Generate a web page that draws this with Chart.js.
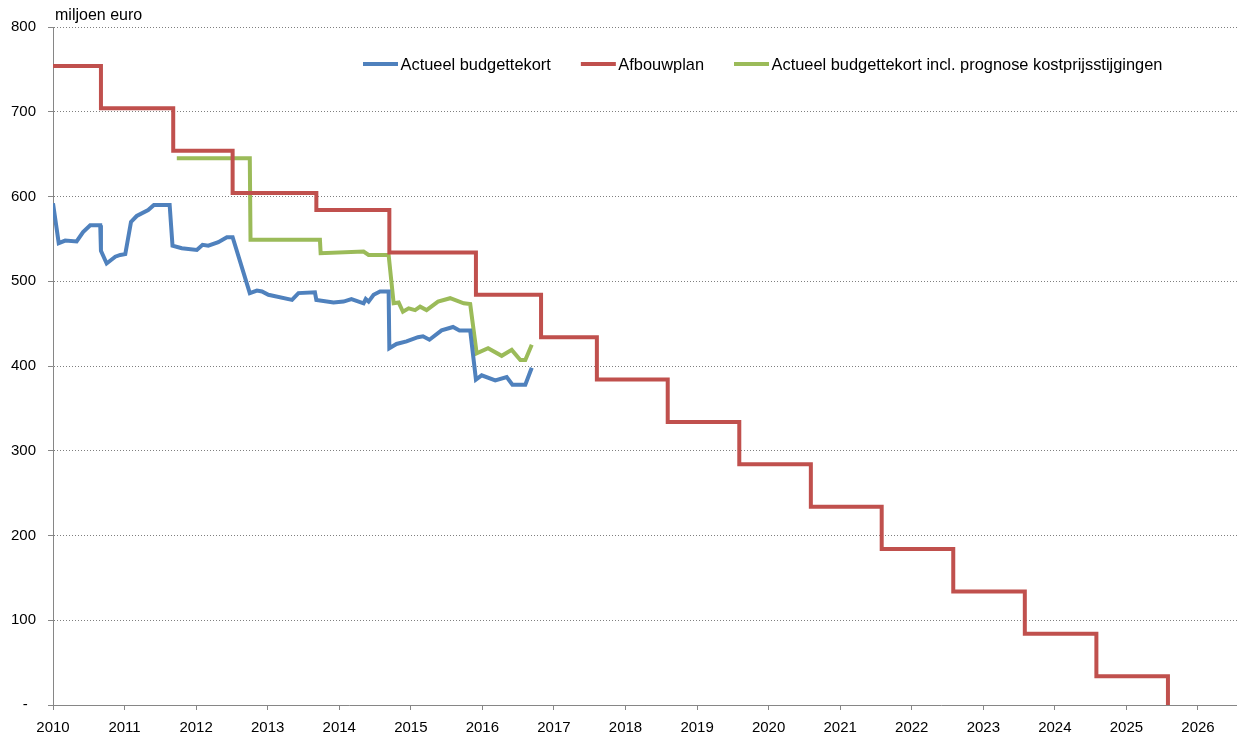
<!DOCTYPE html>
<html>
<head>
<meta charset="utf-8">
<script src="https://cdn.jsdelivr.net/npm/chart.js@4.4.1/dist/chart.umd.min.js"></script>
<style>
  html, body { margin: 0; padding: 0; background: #ffffff; }
  #wrap { width: 1237px; height: 733px; position: relative; }
</style>
</head>
<body>
<div id="wrap"><canvas id="c" width="1237" height="733"></canvas></div>
<script>
// ---- Data (years as decimals, values in miljoen euro) ----
const yAxisTitle = "miljoen euro";
const seriesNames = ["Actueel budgettekort", "Afbouwplan", "Actueel budgettekort incl. prognose kostprijsstijgingen"];
const yearTicks = [2010, 2011, 2012, 2013, 2014, 2015, 2016, 2017, 2018, 2019, 2020, 2021, 2022, 2023, 2024, 2025, 2026];
const valueTicks = [0, 100, 200, 300, 400, 500, 600, 700, 800];

const actueelX = [2010.00, 2010.08, 2010.17, 2010.33, 2010.42, 2010.52, 2010.66, 2010.67, 2010.75, 2010.87, 2010.94, 2011.01,
  2011.09, 2011.17, 2011.33, 2011.41, 2011.63, 2011.67, 2011.80, 2012.01, 2012.09, 2012.17, 2012.31, 2012.43, 2012.51,
  2012.75, 2012.85, 2012.92, 2013.01, 2013.34, 2013.43, 2013.66, 2013.68, 2013.92, 2014.06, 2014.17, 2014.34, 2014.37,
  2014.41, 2014.48, 2014.57, 2014.69, 2014.70, 2014.80, 2014.94, 2015.10, 2015.17, 2015.26, 2015.43, 2015.59, 2015.68,
  2015.83, 2015.91, 2015.99, 2016.18, 2016.34, 2016.42, 2016.60, 2016.69];
const actueelY = [592, 545, 548, 547, 558, 566, 566, 536, 521, 529, 531, 532,
  570, 577, 584, 590, 590, 542, 539, 537, 543, 542, 546, 552, 552,
  486, 489, 488, 484, 478, 486, 487, 478, 475, 476, 479, 474, 479,
  476, 484, 488, 488, 421, 426, 429, 434, 435, 431, 442, 446, 442,
  442, 384, 389, 383, 387, 378, 378, 398];

const afbouwX = [2010.00, 2010.67, 2011.68, 2012.51, 2013.68, 2014.70, 2015.91, 2016.82, 2017.60, 2018.59, 2019.59,
  2020.59, 2021.58, 2022.58, 2023.58, 2024.58, 2025.58];
const afbouwY = [754, 704, 654, 604, 584, 534, 484, 434, 384, 334, 284, 234, 184, 134, 84, 34, 0];

const prognoseX = [2011.73, 2012.75, 2012.76, 2013.73, 2013.74, 2014.34, 2014.41, 2014.69, 2014.76, 2014.83, 2014.89,
  2014.97, 2015.06, 2015.13, 2015.22, 2015.38, 2015.55, 2015.74, 2015.83, 2015.92, 2016.08, 2016.27, 2016.41, 2016.53,
  2016.60, 2016.69];
const prognoseY = [645, 645, 549, 549, 533, 535, 531, 531, 474, 475, 464,
  468, 466, 470, 466, 476, 480, 474, 473, 415, 421, 412, 419, 407,
  407, 425];

// ---- Build datasets ----
const zip = (xs, ys) => xs.map((x, i) => ({ x: x, y: ys[i] }));
const colors = ["#4F81BD", "#C0504D", "#9BBB59"];
const fontFamily = '"Liberation Sans", Arial, sans-serif';
const lineW = 4;

const overlay = {
  id: 'overlay',
  afterDraw(chart) {
    const ctx = chart.ctx;
    const area = chart.chartArea;
    ctx.save();
    // axis unit title
    ctx.fillStyle = '#000000';
    ctx.font = '16px ' + fontFamily;
    ctx.textAlign = 'left';
    ctx.textBaseline = 'alphabetic';
    ctx.fillText(yAxisTitle, area.left + 2, 20);
    // legend
    ctx.font = '16.4px ' + fontFamily;
    ctx.textBaseline = 'middle';
    let x = 363;
    const y = 64;
    chart.data.datasets.forEach((ds) => {
      ctx.strokeStyle = ds.borderColor;
      ctx.lineWidth = lineW;
      ctx.beginPath();
      ctx.moveTo(x, y);
      ctx.lineTo(x + 35, y);
      ctx.stroke();
      ctx.fillStyle = '#000000';
      ctx.fillText(ds.label, x + 37.5, y + 1);
      x += 37.5 + ctx.measureText(ds.label).width + 30;
    });
    ctx.restore();
  }
};

new Chart(document.getElementById('c'), {
  type: 'line',
  data: {
    datasets: [
      { label: seriesNames[0], data: zip(actueelX, actueelY), borderColor: colors[0], backgroundColor: colors[0],
        borderWidth: lineW, pointRadius: 0, tension: 0, fill: false, order: 1 },
      { label: seriesNames[1], data: zip(afbouwX, afbouwY), borderColor: colors[1], backgroundColor: colors[1],
        borderWidth: lineW, pointRadius: 0, stepped: true, fill: false, order: 2 },
      { label: seriesNames[2], data: zip(prognoseX, prognoseY), borderColor: colors[2], backgroundColor: colors[2],
        borderWidth: lineW, pointRadius: 0, tension: 0, fill: false, order: 3 }
    ]
  },
  options: {
    responsive: false,
    animation: false,
    layout: { padding: { top: 27, right: 0, left: 0, bottom: 0 } },
    plugins: {
      legend: { display: false },
      tooltip: { enabled: false },
      title: { display: false }
    },
    scales: {
      x: {
        type: 'linear',
        min: yearTicks[0],
        max: 2026.545,
        afterFit: (s) => { s.height = 28; },
        afterBuildTicks: (s) => { s.ticks = yearTicks.map(v => ({ value: v })); },
        ticks: {
          includeBounds: false,
          stepSize: 1,
          autoSkip: false,
          maxRotation: 0,
          padding: 9,
          color: '#000000',
          font: { family: fontFamily, size: 15 },
          callback: (v) => String(v)
        },
        grid: { drawOnChartArea: false, drawTicks: true, tickLength: 5, tickColor: '#868686', color: '#868686' },
        border: { display: true, color: '#868686', width: 1 }
      },
      y: {
        type: 'linear',
        min: valueTicks[0],
        max: valueTicks[valueTicks.length - 1],
        afterFit: (s) => { s.width = 53; },
        afterBuildTicks: (s) => { s.ticks = valueTicks.map(v => ({ value: v })); },
        ticks: {
          stepSize: 100,
          padding: 12,
          color: '#000000',
          font: { family: fontFamily, size: 15 },
          callback: (v) => (v === 0 ? '-  ' : String(v))
        },
        grid: { drawOnChartArea: true, drawTicks: true, tickLength: 5, tickColor: '#868686', color: '#7f7f7f', lineWidth: 1 },
        border: { display: true, color: '#868686', width: 1, dash: [1, 2] }
      }
    }
  },
  plugins: [overlay]
});
</script>
</body>
</html>
